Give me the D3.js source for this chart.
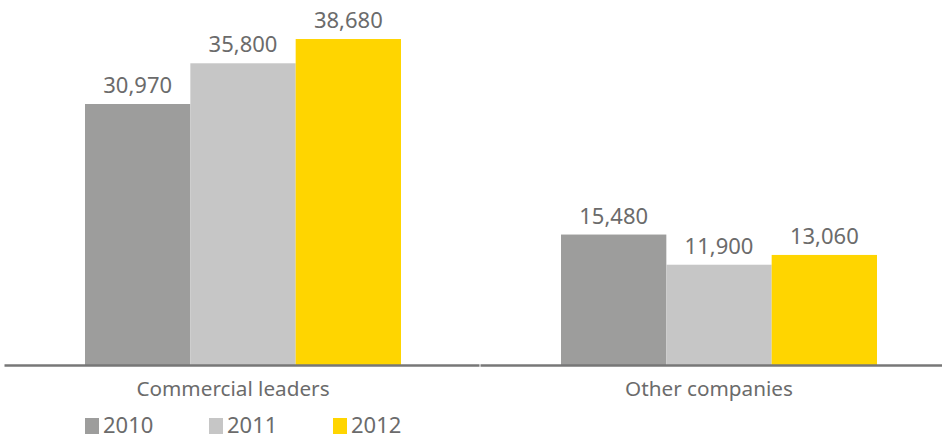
<!DOCTYPE html>
<html>
<head>
<meta charset="utf-8">
<script src="https://cdn.jsdelivr.net/npm/d3@7"></script>
<style>
  body { margin: 0; background: #fff; }
  text { font-family: "Noto Sans", sans-serif; fill: #6b6b6b; }
</style>
</head>
<body>
<svg id="chart"></svg>
<script>
// data
var categories = ["Commercial leaders", "Other companies"];
var years = ["2010", "2011", "2012"];
var values2010 = [30970, 15480];
var values2011 = [35800, 11900];
var values2012 = [38680, 13060];
var colors = ["#9d9d9c", "#c6c6c6", "#ffd500"];

function drawBarChart() {
    var width = 942,
        height = 439,
        baseline = 365;

    var series = [values2010, values2011, values2012];

    var svg = d3.select("#chart")
        .attr("width", width)
        .attr("height", height);

    // scales
    var x0 = d3.scaleBand()
        .domain(categories)
        .range([5, 957]);

    var x1 = d3.scaleBand()
        .domain(years)
        .range([0, 316]);

    var y = d3.scaleLinear()
        .domain([0, 40000])
        .range([baseline, baseline - 337.1]);

    var fmt = d3.format(",");

    var groups = svg.selectAll("g.group")
        .data(categories)
        .enter().append("g")
        .attr("class", "group")
        .attr("transform", function (d) {
            return "translate(" + (x0(d) + x0.bandwidth() / 2 - 158) + ",0)";
        });

    groups.each(function (cat, ci) {
        var g = d3.select(this);
        var rows = years.map(function (yr, si) {
            return { year: yr, value: series[si][ci], color: colors[si] };
        });

        g.selectAll("rect")
            .data(rows)
            .enter().append("rect")
            .attr("x", function (d) { return x1(d.year); })
            .attr("width", x1.bandwidth())
            .attr("y", function (d) { return y(d.value); })
            .attr("height", function (d) { return baseline - y(d.value); })
            .style("fill", function (d) { return d.color; });

        g.selectAll("text.value")
            .data(rows)
            .enter().append("text")
            .attr("class", "value")
            .attr("x", function (d) { return x1(d.year) + x1.bandwidth() / 2; })
            .attr("y", function (d) { return y(d.value) - 11; })
            .attr("text-anchor", "middle")
            .style("font-size", "22px")
            .text(function (d) { return fmt(d.value); });
    });

    // axis line, one segment per category with a small gap
    svg.selectAll("line.axis")
        .data(categories)
        .enter().append("line")
        .attr("class", "axis")
        .attr("x1", function (d) { return x0(d) - 0.5; })
        .attr("x2", function (d) { return x0(d) + x0.bandwidth() - 1.5; })
        .attr("y1", baseline + 0.5)
        .attr("y2", baseline + 0.5)
        .style("stroke", "#777")
        .style("stroke-width", 2.5);

    // category labels
    svg.selectAll("text.cat")
        .data(categories)
        .enter().append("text")
        .attr("class", "cat")
        .attr("x", function (d) { return x0(d) + x0.bandwidth() / 2 - 10; })
        .attr("y", 396)
        .attr("text-anchor", "middle")
        .style("font-size", "20.7px")
        .text(function (d) { return d; });

    // legend
    var legend = svg.selectAll("g.legend")
        .data(years)
        .enter().append("g")
        .attr("class", "legend")
        .attr("transform", function (d, i) { return "translate(" + (85 + i * 124) + ",418)"; });

    legend.append("rect")
        .attr("width", 14)
        .attr("height", 16)
        .style("fill", function (d, i) { return colors[i]; });

    legend.append("text")
        .attr("x", 18)
        .attr("y", 15)
        .style("font-size", "22px")
        .text(function (d) { return d; });
}

drawBarChart();
</script>
</body>
</html>
